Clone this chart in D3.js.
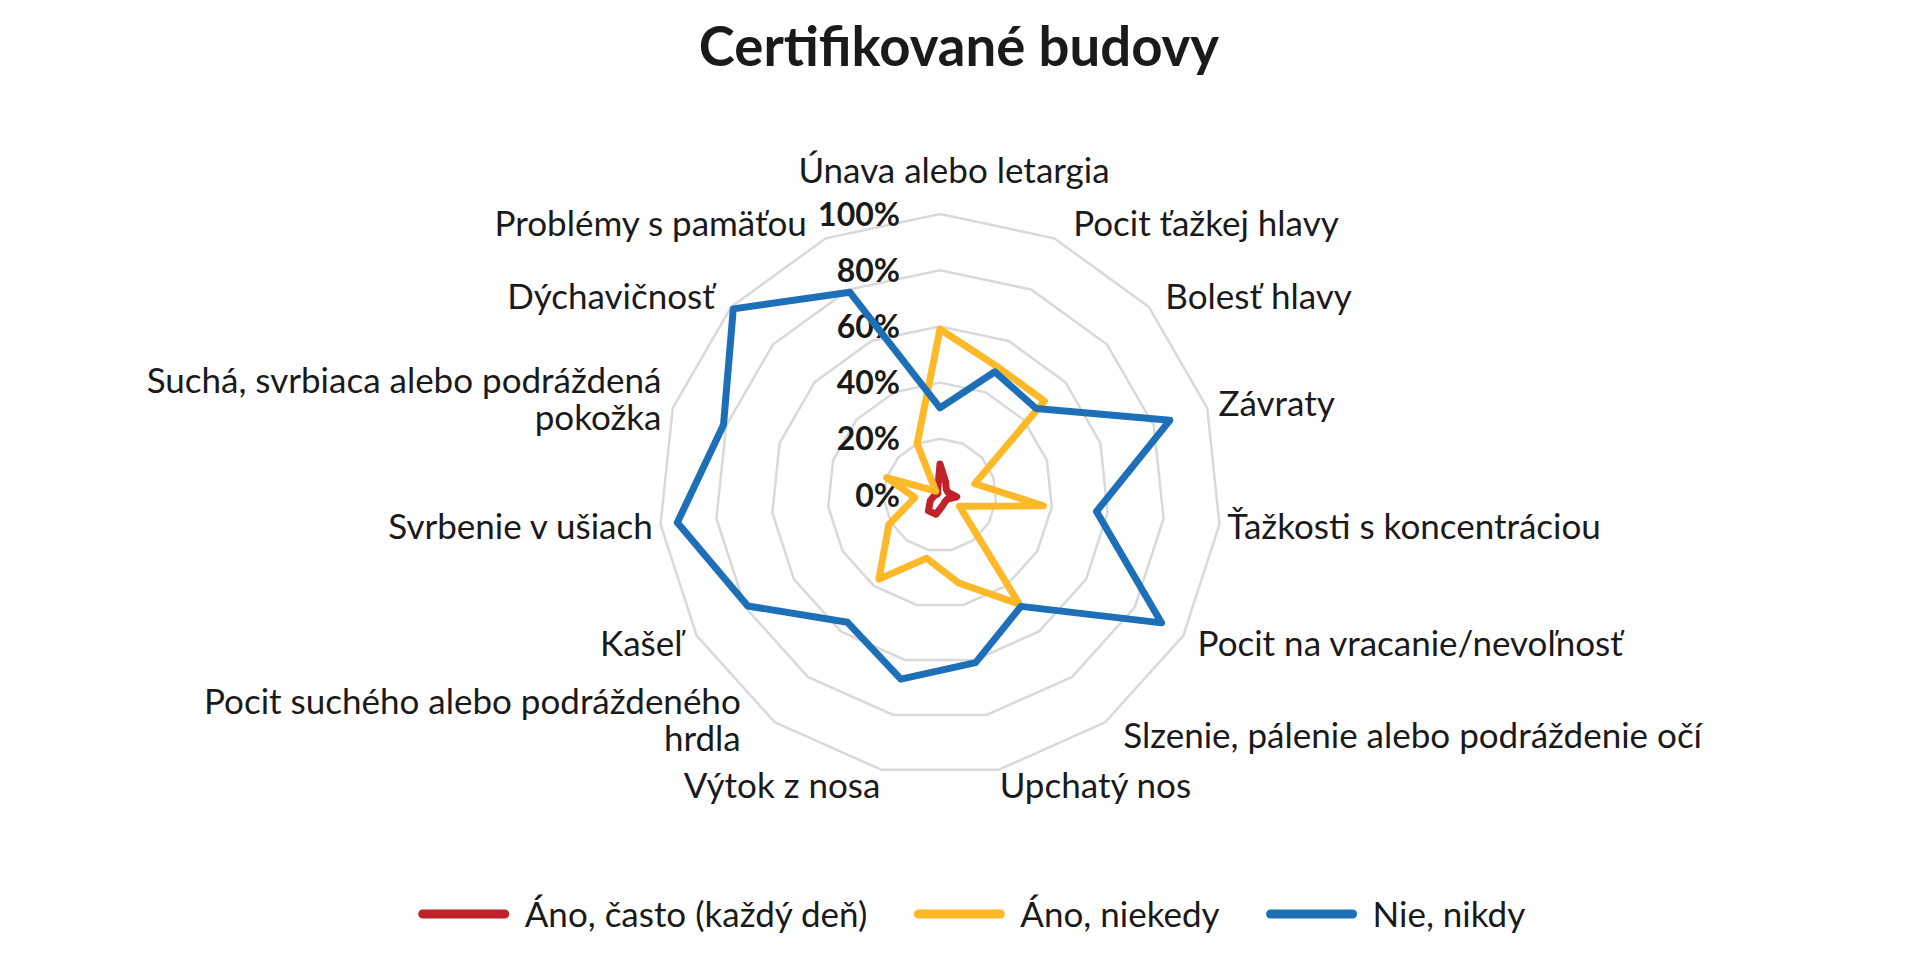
<!DOCTYPE html>
<html>
<head>
<meta charset="utf-8">
<script src="https://cdn.jsdelivr.net/npm/d3@7"></script>
<style>
  body { margin: 0; background: #fff; }
  text { font-family: Lato, "Open Sans", sans-serif; fill: #1a1a1a; }
</style>
</head>
<body>
<div class="radar"></div>
<script>
var width = 1920,
    height = 975;

// categories clockwise from the top
var categories = [
    "Únava alebo letargia",
    "Pocit ťažkej hlavy",
    "Bolesť hlavy",
    "Závraty",
    "Ťažkosti s koncentráciou",
    "Pocit na vracanie/nevoľnosť",
    "Slzenie, pálenie alebo podráždenie očí",
    "Upchatý nos",
    "Výtok z nosa",
    "Pocit suchého alebo podráždeného hrdla",
    "Kašeľ",
    "Svrbenie v ušiach",
    "Suchá, svrbiaca alebo podráždená pokožka",
    "Dýchavičnosť",
    "Problémy s pamäťou"
];

var often     = [11, 5, 3, 3, 6, 3, 3, 4, 7, 7, 4, 2, 1, 1, 2];
var sometimes = [59, 50, 50, 13, 37, 8, 48, 32, 23, 37, 21, 9, 20, 2, 20];
var never     = [31, 48, 46, 86, 56, 91, 49, 61, 67, 56, 79, 94, 81, 99, 79];

var seriesNames = ["Áno, často (každý deň)", "Áno, niekedy", "Nie, nikdy"];
var ticks = [0, 20, 40, 60, 80, 100];

var colors = ["#c0222a", "#fdb927", "#1d70b8"];
var series = [often, sometimes, never];

var cx = 940, cy = 495, R = 281;

var svg = d3.select(".radar").append("svg")
    .attr("width", width)
    .attr("height", height);

var r = d3.scaleLinear().domain([0, 100]).range([0, R]);
var angle = d3.scaleLinear().domain([0, categories.length]).range([0, 2 * Math.PI]);

var chart = svg.append("g")
    .attr("transform", `translate(${cx}, ${cy})`);

// title
svg.append("text")
    .attr("x", 959)
    .attr("y", 66)
    .attr("text-anchor", "middle")
    .style("font-size", "54.5px")
    .style("font-weight", "bold")
    .text("Certifikované budovy");

// grid rings
var ring = d3.lineRadial()
    .angle((d, i) => angle(i))
    .radius(d => r(d))
    .curve(d3.curveLinearClosed);

chart.selectAll(".ring")
    .data(ticks.filter(t => t > 0))
    .enter().append("path")
    .attr("class", "ring")
    .attr("d", t => ring(categories.map(() => t)))
    .style("fill", "none")
    .style("stroke", "#d9d9d9")
    .style("stroke-width", 2.5);

// value labels along the top spoke
chart.selectAll(".tick")
    .data(ticks)
    .enter().append("text")
    .attr("x", -40)
    .attr("y", t => -r(t))
    .attr("dy", "0.36em")
    .attr("text-anchor", "end")
    .style("font-size", "32px")
    .style("font-weight", "bold")
    .text(t => t + "%");

// category labels
function wrap(txt, maxW, size) {
    var words = txt.split(" "), lines = [], cur = "";
    var probe = svg.append("text").style("font-size", size + "px");
    words.forEach(w => {
        var test = cur ? cur + " " + w : w;
        probe.text(test);
        if (cur && probe.node().getComputedTextLength() > maxW) {
            lines.push(cur);
            cur = w;
        } else {
            cur = test;
        }
    });
    lines.push(cur);
    probe.remove();
    return lines;
}

var labelSize = 35,
    lineH = 37;

categories.forEach((c, i) => {
    var a = angle(i),
        s = Math.sin(a),
        co = Math.cos(a);
    var anchor, x, y;
    var lines = wrap(c, s > 0 ? 620 : 560, labelSize);
    var multi = lines.length > 1;
    if (Math.abs(s) < 0.1) {
        anchor = "middle";
        x = 14;
        y = -325;
    } else {
        var side = s > 0 ? 1 : -1;
        var shift;
        if (Math.abs(s) < 0.3 && co < 0) shift = 0;      // labels right under the chart
        else shift = 18 * Math.abs(co) + (multi && co < 0 ? 16 : 0);
        anchor = s > 0 ? "start" : "end";
        x = s * 287 + side * shift;
        y = -co * 297 + (multi ? -7 + 10 * co : 0);
    }
    var t = chart.append("text")
        .attr("text-anchor", anchor)
        .style("font-size", labelSize + "px");
    lines.forEach((l, k) => {
        t.append("tspan")
            .attr("x", x)
            .attr("y", y + (k - (lines.length - 1) / 2) * lineH)
            .attr("dy", "0.36em")
            .text(l);
    });
});

// series
var radar = d3.lineRadial()
    .angle((d, i) => angle(i))
    .radius(d => r(d))
    .curve(d3.curveLinearClosed);

chart.selectAll(".series")
    .data(series)
    .enter().append("path")
    .attr("class", "series")
    .attr("d", d => radar(d))
    .style("fill", "none")
    .style("stroke", (d, i) => colors[i])
    .style("stroke-width", 7)
    .style("stroke-linejoin", "round");

// legend
var legend = svg.append("g");
var lx = 0;
seriesNames.forEach((n, i) => {
    var g = legend.append("g").attr("transform", `translate(${lx}, 0)`);
    g.append("line")
        .attr("x1", 4).attr("x2", 86)
        .attr("y1", 0).attr("y2", 0)
        .style("stroke", colors[i])
        .style("stroke-width", 9)
        .style("stroke-linecap", "round");
    var t = g.append("text")
        .attr("x", 106)
        .attr("dy", "0.36em")
        .style("font-size", labelSize + "px")
        .text(n);
    lx += 106 + t.node().getComputedTextLength() + 47;
});
lx -= 47;
legend.attr("transform", `translate(${972 - lx / 2}, 914)`);
</script>
</body>
</html>
